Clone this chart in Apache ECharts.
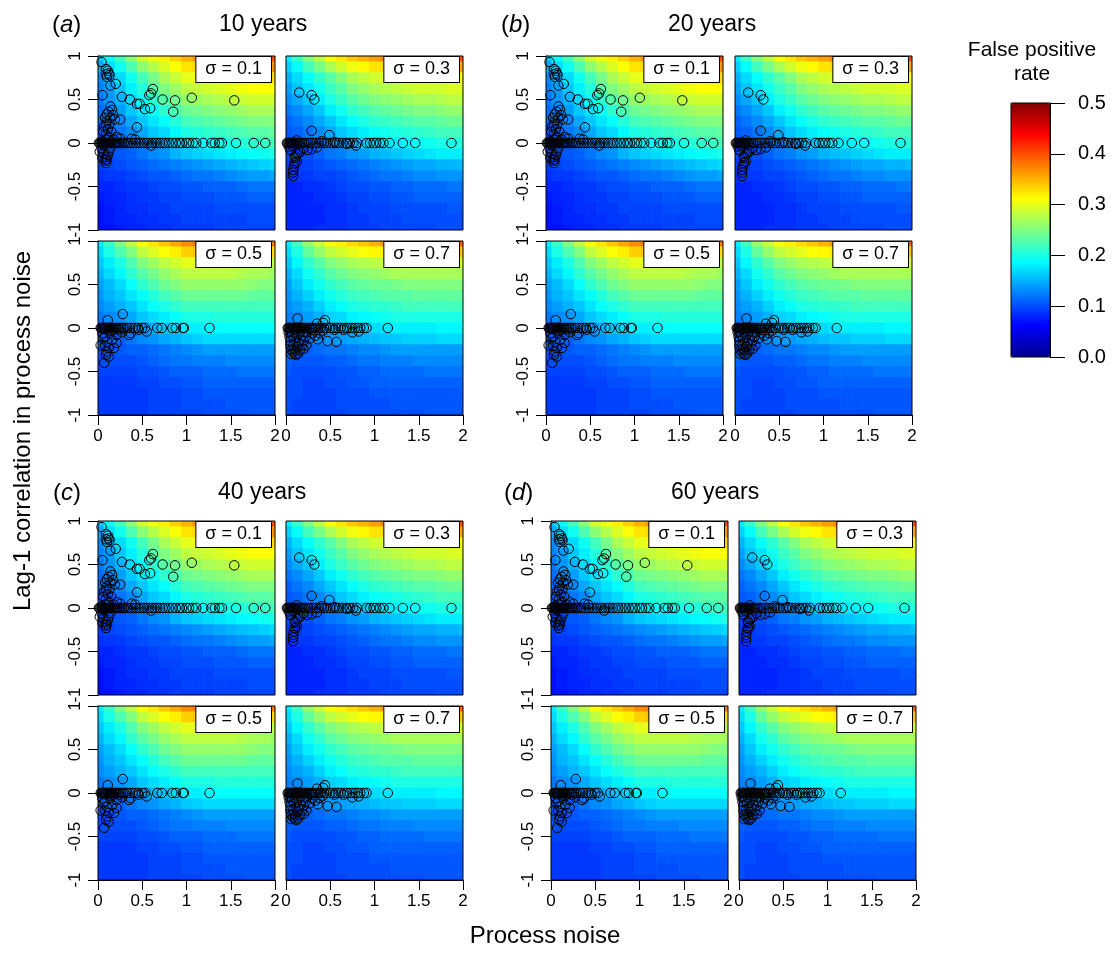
<!DOCTYPE html>
<html><head><meta charset="utf-8">
<script src="https://cdn.jsdelivr.net/npm/echarts@6/dist/echarts.min.js"></script>
<style>html,body{margin:0;padding:0;background:#fff}#c{width:1115px;height:954px}</style>
</head><body><div id="c"></div>
<script>
const FONT = '"Liberation Sans", Arial, Helvetica, sans-serif';

// ---------- text / tick data ----------
const groupLetters = ['a', 'b', 'c', 'd'];
const groupTitles = ['10 years', '20 years', '40 years', '60 years'];
const sigmaLabels = ['σ = 0.1', 'σ = 0.3', 'σ = 0.5', 'σ = 0.7'];
const xTickStep = 0.5;        // process noise ticks 0 … 2
const yTickStep = 0.5;        // lag-1 correlation ticks -1 … 1
const colorbarTickStep = 0.1; // false positive rate 0.0 … 0.5

// ---------- false positive rate surfaces (percent), rows y = 1 … -1, cols x = 0 … 2 ----------
const surfaceX = [0,0.125,0.25,0.375,0.5,0.625,0.75,0.875,1,1.125,1.25,1.375,1.5,1.625,1.75,1.875,2];
const surfaceY = [1,0.875,0.75,0.625,0.5,0.375,0.25,0.125,0,-0.125,-0.25,-0.375,-0.5,-0.625,-0.75,-0.875,-1];

const fprSigma01 = [
[16,19,22,25.5,29,30.5,32,33.5,35,36,37,37.5,38,38.5,39,39.5,40],
[14.5,17,19.5,22.5,25.5,27.5,29.5,31,32.5,33,34,34.5,35,35.5,36,36,36.5],
[13,15,17,19.5,22,24.5,27,28.5,30,30.5,31,31.5,32,32.5,33,33,33],
[12.5,14,16,18,20.5,23,25,26.5,28,28.5,29,29.5,30,30.5,31,31,31],
[12,13.5,15,17,19,21,23,24.5,26,26.5,27,27.5,28,28.5,29,29,29],
[11.5,13,14,16,17.5,19,21,22.5,24,24.5,25,25.5,26,26.5,27,27,27],
[11,12,13,14.5,16,17.5,19,20.5,22,22.5,23,23.5,24,24.5,25,25,25],
[10.5,11,12,13,14.5,16,17,18.5,20,20.5,21,21.5,22,22.5,23,23,23.5],
[10,10.5,11,12,13,14,15,16.5,18,18.5,19,19.5,20,20.5,21,21.5,22],
[9.5,10,10.5,11,12,13,13.5,15,16,16.5,17,17.5,18,18.5,19,19.5,20],
[9,9.5,10,10.5,11,11.5,12,12.5,13,13.5,14,14.5,15,15.5,16,16.5,17],
[8.5,9,9,9.5,10,10.5,10.5,11,11.5,12,12,12.5,13,13.5,14,14,14.5],
[8,8,8.5,9,9,9.5,10,10,10.5,10.5,11,11,11,11.5,12,12,12],
[7.5,8,8,8.5,9,9,9.5,9.5,10,10,10,10.5,10.5,10.5,11,11,11],
[7,7.5,8,8.5,8.5,9,9,9.5,9.5,9.5,9.5,10,10,10,10,10,10],
[7,7.5,8,8,8.5,8.5,9,9,9.5,9.5,9.5,9.5,9.5,9.5,10,10,10],
[7,7,7.5,8,8,8.5,8.5,9,9,9,9,9.5,9.5,9.5,9.5,9.5,9.5]
];
const fprSigma03 = [
[18,21.5,25,28,31,32.5,34,35,36,37,38,38.5,39,39,39,39.5,40],
[16.5,19,22,24.5,27,29,30.5,31.5,32.5,33,34,34.5,35,35,35,35,35.5],
[15,17,19,21,23,25,27,28,29,29.5,30,30.5,31,31,31,31,31],
[14,16,17.5,19.5,21.5,23,25,26,27,27.5,28,28.5,29,29,29,29.5,29.5],
[13,14.5,16,18,20,21.5,23,24,25,25.5,26,26.5,27,27,27.5,28,28],
[12,13,14.5,16,18,19.5,21,22,23,23.5,24,24.5,25,25,25.5,26,26],
[11,12,13,14.5,16,17.5,19,20,21,21.5,22,22.5,23,23,23.5,24,24],
[10.5,11,12,13,14.5,16,17,18,19,19.5,20,20.5,21,21.5,22,22,22],
[10,10.5,11,12,13,14,15,16,17,17.5,18,18.5,19,19.5,20,20,20.5],
[9.5,10,10,11,12,12.5,13.5,14,15,15.5,16,16.5,17,17.5,18,18,18],
[9,9,9.5,10,10.5,11,11.5,12,12.5,13,13.5,14,14.5,14.5,15,15,15.5],
[8.5,9,9,9.5,9.5,10,10.5,11,11.5,12,12,12.5,13,13,13.5,13.5,13.5],
[8,8,8.5,8.5,9,9.5,10,10,10.5,10.5,11,11,11.5,11.5,11.5,12,12],
[8,8,8,8.5,8.5,9,9.5,9.5,10,10,10.5,10.5,11,11,11,11,11],
[8,8,8,8,8.5,8.5,9,9.5,9.5,9.5,10,10,10,10,10,10.5,10.5],
[8,8,8,8,8.5,8.5,9,9,9.5,9.5,9.5,10,10,10,10,10,10],
[8,8,8,8.5,8.5,8.5,9,9,9,9.5,9.5,9.5,9.5,9.5,10,10,10]
];
const fprSigma05 = [
[18,21.5,25,28,31,32.5,34,35.5,37,37.5,38,38.5,39,39,39,38.5,38],
[17,20,22.5,25,28,29.5,31,32,33.5,34,34,34,34.5,34,34,33.5,33],
[16,18,20,22.5,25,26.5,28,29,30,30,30,30,30,29.5,29,28.5,28],
[15,17,18.5,21,23,24.5,26,27,28,28,28,28,28,27.5,27,27,26.5],
[14,15.5,17,19,21,22.5,24,25,26,26,26,26,26,26,25.5,25,25],
[13.5,15,16,17.5,19,20.5,22,23,24,24,24,24,24,24,23.5,23.5,23.5],
[13,14,15,16,17.5,19,20,21,22,22,22,22,22,22,22,22,22],
[12,13,13.5,14.5,16,17,18,19,20,20,20,20.5,20.5,20.5,20.5,20.5,20.5],
[11,11.5,12,13,14,15,16,17,18,18,18.5,19,19,19,19,19,19],
[10.5,11,11,12,13,13.5,14.5,15,16,16.5,17,17,17,17,17,17,17],
[10,10,10.5,11,11,11.5,12,12.5,13,13.5,14,14,14,14,14,14,14],
[10,10,10,10,10.5,11,11.5,12,12,12.5,12.5,12.5,13,13,13,13,13],
[9.5,9.5,9.5,9.5,10,10,10.5,11,11,11,11.5,11.5,11.5,12,12,12,12],
[9,9,9,9,9.5,9.5,10,10,10.5,10.5,11,11,11,11,11,11,11],
[9,9,9,9,9,9.5,9.5,9.5,10,10,10.5,10.5,10.5,10.5,10.5,10.5,10.5],
[9,9,9,9,9,9.5,9.5,9.5,10,10,10,10,10.5,10.5,10.5,10.5,10.5],
[9,9,9,9,9,9.5,9.5,9.5,9.5,9.5,10,10,10,10,10.5,10.5,10.5]
];
const fprSigma07 = [
[18,22,26,28.5,31,32,33,34,35,36,37,37.5,38,38,38,38.5,39],
[17,20,23.5,26,28,29,30,31,31.5,32,33,33,33.5,33.5,33.5,34,34],
[16,18.5,21,23,25,26,27,27.5,28,28.5,29,29,29,29,29,29,29],
[15,17,19.5,21,23,24,25,25.5,26,26.5,27,27,27,27,27,27,27],
[14,16,18,19.5,21,22,23,23.5,24,24,24.5,25,25,25,25,25,25],
[13.5,15,16.5,18,19.5,20.5,21.5,22,22.5,23,23,23,23.5,23.5,23.5,23.5,23.5],
[13,14,15,16.5,18,19,20,20.5,21,21,21.5,22,22,22,22,22,22],
[12.5,13,14,15,16.5,17,18,18.5,19,19.5,20,20,20,20,20,20,20],
[12,12.5,13,14,15,15.5,16,16.5,17,17.5,18,18,18,18,18.5,18.5,18.5],
[11.5,12,12,13,13.5,14,14.5,15,15.5,16,16,16.5,16.5,16.5,17,17,17],
[11,11,11,11.5,12,12,12.5,13,13,13.5,14,14,14,14,14,14,14],
[11,10.5,10.5,10.5,11,11,11.5,12,12,12.5,12.5,12.5,13,13,13,13,13],
[10.5,10,10,10,10,10.5,10.5,11,11,11.5,11.5,11.5,11.5,12,12,12,12],
[10,10,9.5,9.5,10,10,10.5,10.5,11,11,11,11,11,11,11,11,11],
[10,10,9.5,9.5,9.5,10,10,10,10.5,10.5,10.5,10.5,10.5,10.5,10.5,10.5,10.5],
[10,9.5,9.5,9.5,9.5,10,10,10,10,10,10.5,10.5,10.5,10.5,10.5,10.5,10.5],
[10,9.5,9.5,9.5,9.5,9.5,10,10,10,10,10,10,10,10.5,10.5,10.5,10.5]
];

// ---------- estimated (process noise, lag-1 correlation) points ----------
const pointsSigma01 = [
[0.04,0.93],[0.09,0.85],[0.11,0.83],[0.12,0.80],[0.09,0.79],[0.13,0.78],[0.10,0.76],[0.05,0.55],[0.14,0.66],[0.20,0.68],
[0.27,0.53],[0.36,0.50],[0.44,0.45],[0.47,0.45],[0.53,0.39],[0.58,0.55],[0.60,0.57],[0.62,0.62],[0.59,0.40],[0.73,0.50],
[0.87,0.49],[0.85,0.36],[1.06,0.52],[1.54,0.49],
[0.14,0.42],[0.16,0.38],[0.10,0.33],[0.14,0.29],[0.10,0.25],[0.17,0.32],[0.09,0.21],[0.07,0.19],[0.19,0.27],[0.25,0.27],
[0.15,0.13],[0.06,0.13],[0.21,0.07],[0.12,0.07],[0.44,0.18],[0.12,0.36],[0.08,0.29],[0.13,0.22],[0.11,0.16],[0.09,0.10],
[0.25,0.05],[0.38,0.05],[0.42,0.04],[0.18,0.04],[0.08,0.04],[0.05,0.02],
[0.01,0],[0.02,0],[0.03,0],[0.04,0],[0.05,0],[0.06,0],[0.07,0],[0.08,0],[0.09,0],[0.10,0],[0.11,0],[0.12,0],[0.13,0],
[0.14,0],[0.15,0],[0.17,0],[0.19,0],[0.21,0],[0.23,0],[0.25,0],[0.27,0],[0.29,0],[0.31,0],[0.34,0],[0.37,0],[0.40,0],
[0.43,0],[0.46,0],[0.49,0],[0.52,0],[0.55,0],[0.58,0],[0.61,0],[0.64,0],[0.67,0],[0.70,0],[0.73,0],[0.76,0],[0.80,0],
[0.84,0],[0.88,0],[0.92,0],[0.95,0],[1.00,0],[1.03,0],[1.07,0],[1.11,0],[1.19,0],[1.28,0],[1.32,0],[1.37,0],[1.40,0],
[1.56,0],[1.76,0],[1.89,0],
[0.04,-0.06],[0.06,-0.12],[0.09,-0.16],[0.08,-0.20],[0.09,-0.23],[0.10,-0.19],[0.02,-0.10],[0.12,-0.10],[0.14,-0.06],
[0.60,-0.03],[0.07,-0.03],[0.11,-0.14],[0.05,-0.17]
];
const pointsSigma03 = [
[0.15,0.58],[0.29,0.55],[0.32,0.50],[0.29,0.14],[0.49,0.09],
[0.01,0],[0.02,0],[0.03,0],[0.04,0],[0.05,0],[0.06,0],[0.07,0],[0.08,0],[0.09,0],[0.10,0],[0.12,0],[0.14,0],[0.16,0],
[0.18,0],[0.20,0],[0.22,0],[0.25,0],[0.28,0],[0.31,0],[0.34,0],[0.37,0],[0.40,0],[0.43,0],[0.46,0],[0.50,0],[0.53,0],
[0.57,0],[0.60,0],[0.64,0],[0.68,0],[0.72,0],[0.76,0],[0.80,0],[0.91,0],[0.95,0],[0.99,0],[1.02,0],[1.06,0],[1.10,0],
[1.17,0],[1.32,0],[1.46,0],[1.87,0],
[0.79,-0.03],[0.69,-0.01],[0.20,-0.06],[0.24,-0.08],[0.29,-0.07],[0.35,-0.05],[0.16,-0.10],[0.05,-0.08],[0.03,-0.04],
[0.07,-0.03],[0.40,0.02],[0.55,0.01],[0.12,0.03],
[0.12,-0.13],[0.105,-0.17],[0.10,-0.23],[0.09,-0.27],[0.08,-0.31],[0.08,-0.34],[0.08,-0.38],[0.14,-0.12],[0.12,-0.21],[0.10,-0.15]
];
const pointsSigma05 = [
[0.28,0.16],[0.11,0.09],
[0.03,0],[0.04,0],[0.05,0],[0.06,0],[0.07,0],[0.08,0],[0.09,0],[0.10,0],[0.11,0],[0.12,0],[0.13,0],[0.14,0],[0.15,0],
[0.16,0],[0.18,0],[0.20,0],[0.22,0],[0.24,0],[0.26,0],[0.28,0],[0.30,0],[0.33,0],[0.36,0],[0.39,0],[0.42,0],[0.45,0],
[0.50,0],[0.53,0],[0.67,0],[0.72,0],[0.84,0],[0.88,0],[0.96,0],[0.97,0],[1.26,0],
[0.55,-0.04],[0.46,-0.02],[0.35,-0.08],[0.37,-0.06],[0.27,-0.05],[0.21,-0.08],[0.14,-0.06],[0.05,-0.06],
[0.06,-0.12],[0.10,-0.16],[0.08,-0.20],[0.12,-0.23],[0.10,-0.27],[0.09,-0.31],[0.07,-0.40],[0.16,-0.14],[0.21,-0.17],
[0.18,-0.23],[0.03,-0.20],[0.12,-0.33],[0.08,-0.10],[0.13,-0.03],[0.17,-0.02],[0.24,-0.02]
];
const pointsSigma07 = [
[0.13,0.11],[0.44,0.09],[0.42,0.06],[0.35,0.05],
[0.02,0],[0.03,0],[0.04,0],[0.05,0],[0.06,0],[0.07,0],[0.08,0],[0.09,0],[0.10,0],[0.11,0],[0.12,0],[0.13,0],[0.14,0],
[0.15,0],[0.16,0],[0.17,0],[0.18,0],[0.19,0],[0.20,0],[0.21,0],[0.22,0],[0.24,0],[0.26,0],[0.28,0],[0.30,0],[0.32,0],
[0.34,0],[0.36,0],[0.38,0],[0.40,0],[0.43,0],[0.46,0],[0.50,0],[0.53,0],[0.56,0],[0.59,0],[0.62,0],[0.66,0],[0.69,0],
[0.72,0],[0.75,0],[0.78,0],[0.81,0],[0.84,0],[0.88,0],[0.91,0],[1.15,0],
[0.03,-0.05],[0.04,-0.10],[0.05,-0.15],[0.05,-0.20],[0.06,-0.25],[0.08,-0.28],[0.10,-0.30],[0.12,-0.31],[0.14,-0.29],
[0.16,-0.25],[0.18,-0.20],[0.20,-0.15],[0.22,-0.10],[0.07,-0.08],[0.09,-0.12],[0.11,-0.18],[0.13,-0.22],[0.10,-0.05],
[0.15,-0.06],[0.19,-0.08],[0.23,-0.20],[0.08,-0.20],[0.12,-0.10],[0.16,-0.14],[0.06,-0.30],[0.09,-0.24],[0.14,-0.18],
[0.20,-0.24],[0.04,-0.03],[0.11,-0.26],[0.17,-0.04],[0.24,-0.05],
[0.47,-0.15],[0.57,-0.16],[0.30,-0.06],[0.33,-0.09],[0.36,-0.13],[0.38,-0.06],[0.27,-0.12],[0.42,-0.03],[0.75,-0.05],
[0.82,-0.04],[0.65,-0.02],[0.30,-0.02],[0.55,-0.02]
];

// ---------- assembly ----------
const surfaces = [fprSigma01, fprSigma03, fprSigma05, fprSigma07];
const pointSets = [pointsSigma01, pointsSigma03, pointsSigma05, pointsSigma07];

const groupLeft = [[98, 286], [546, 735], [98, 286], [551, 739]];
const groupTop = [[56, 241], [56, 241], [521, 706], [521, 706]];
const PW = 177, PH = 174;
const HALF_CELL = (surfaceX[1] - surfaceX[0]) / 2;

function cellData(surf) {
  const out = [];
  surfaceY.forEach((y, i) => surfaceX.forEach((x, j) => out.push([x, y, surf[i][j]])));
  return out;
}
function renderCell(params, api) {
  const x = api.value(0), y = api.value(1);
  const p0 = api.coord([x - HALF_CELL, y + HALF_CELL]);
  const p1 = api.coord([x + HALF_CELL, y - HALF_CELL]);
  const cs = params.coordSys;
  const r = echarts.graphic.clipRectByRect(
    { x: p0[0], y: p0[1], width: p1[0] - p0[0] + 0.7, height: p1[1] - p0[1] + 0.7 },
    { x: cs.x, y: cs.y, width: cs.width, height: cs.height });
  if (!r) return null;
  return { type: 'rect', shape: r, style: { fill: api.visual('color') } };
}

const grid = [], xAxis = [], yAxis = [], series = [], graphic = [];
const heatSeriesIdx = [];
let gi = 0;
for (let g = 0; g < 4; g++) {
  for (let r = 0; r < 2; r++) {
    for (let c = 0; c < 2; c++) {
      const k = r * 2 + c;
      const left = groupLeft[g][c], top = groupTop[g][r];
      grid.push({ left, top, width: PW, height: PH, show: true, borderColor: '#000', borderWidth: 1,
        backgroundColor: 'rgba(0,0,0,0)', z: 3 });
      xAxis.push({ gridIndex: gi, type: 'value', min: 0, max: 2, interval: xTickStep, show: r === 1, position: 'bottom',
        axisLine: { show: true, onZero: false, lineStyle: { color: '#000', width: 1 } },
        axisTick: { show: true, length: 10, lineStyle: { color: '#000', width: 1 } },
        axisLabel: { show: true, margin: 13, color: '#000', fontSize: 17, fontFamily: FONT },
        splitLine: { show: false } });
      yAxis.push({ gridIndex: gi, type: 'value', min: -1, max: 1, interval: yTickStep, show: c === 0, position: 'left',
        axisLine: { show: true, onZero: false, lineStyle: { color: '#000', width: 1 } },
        axisTick: { show: true, length: 10, lineStyle: { color: '#000', width: 1 } },
        axisLabel: { show: true, rotate: 90, margin: 14, color: '#000', fontSize: 17, fontFamily: FONT },
        splitLine: { show: false } });
      heatSeriesIdx.push(series.length);
      series.push({ type: 'custom', coordinateSystem: 'cartesian2d', xAxisIndex: gi, yAxisIndex: gi,
        data: cellData(surfaces[k]), encode: { x: 0, y: 1 }, renderItem: renderCell,
        silent: true, animation: false, clip: true, z: 1 });
      series.push({ type: 'scatter', xAxisIndex: gi, yAxisIndex: gi, data: pointSets[k],
        symbol: 'circle', symbolSize: 9.5, silent: true, animation: false, clip: true, z: 4,
        itemStyle: { color: 'rgba(0,0,0,0)', borderColor: '#000', borderWidth: 1, opacity: 1 } });
      graphic.push({ type: 'text', z: 100, silent: true,
        style: { text: sigmaLabels[k], x: left + PW - 4, y: top + 1, align: 'right', verticalAlign: 'top',
          fontSize: 18, fontFamily: FONT, fill: '#000', lineHeight: 19,
          backgroundColor: '#fff', borderColor: '#000', borderWidth: 1, padding: [3, 9, 3, 9] } });
      gi++;
    }
  }
}

// colorbar axis grid
grid.push({ left: 1011, top: 103, width: 39, height: 254, show: true, borderColor: '#000', borderWidth: 1,
  backgroundColor: 'rgba(0,0,0,0)', z: 6 });
xAxis.push({ gridIndex: gi, type: 'value', min: 0, max: 1, show: false });
yAxis.push({ gridIndex: gi, type: 'value', position: 'right', min: 0, max: 0.5, interval: colorbarTickStep, z: 6,
  axisLine: { show: true, onZero: false, lineStyle: { color: '#000', width: 1 } },
  axisTick: { show: true, length: 15, lineStyle: { color: '#000', width: 1 } },
  axisLabel: { show: true, margin: 28, color: '#000', fontSize: 20, fontFamily: FONT, formatter: v => v.toFixed(1) },
  splitLine: { show: false } });

// titles
const titleX = [[52, 219], [501, 668], [53, 218], [504, 671]];
const titleY = [25, 25, 493, 493];
for (let g = 0; g < 4; g++) {
  graphic.push({ type: 'text', z: 100, silent: true,
    style: { text: '({it|' + groupLetters[g] + '})', x: titleX[g][0], y: titleY[g], align: 'left', verticalAlign: 'middle',
      fontSize: 24, fontFamily: FONT, fill: '#000',
      rich: { it: { fontStyle: 'italic', fontSize: 24, fontFamily: FONT, fill: '#000' } } } });
  graphic.push({ type: 'text', z: 100, silent: true,
    style: { text: groupTitles[g], x: titleX[g][1], y: titleY[g], align: 'left', verticalAlign: 'middle',
      fontSize: 23, fontFamily: FONT, fill: '#000' } });
}
graphic.push({ type: 'text', z: 100, silent: true, x: 23, y: 431, rotation: Math.PI / 2,
  style: { text: 'Lag-1 correlation in process noise', x: 0, y: 0, align: 'center', verticalAlign: 'middle',
    fontSize: 24, fontFamily: FONT, fill: '#000' } });
graphic.push({ type: 'text', z: 100, silent: true,
  style: { text: 'Process noise', x: 545, y: 936, align: 'center', verticalAlign: 'middle',
    fontSize: 24, fontFamily: FONT, fill: '#000' } });
graphic.push({ type: 'text', z: 100, silent: true,
  style: { text: 'False positive\nrate', x: 1032, y: 38, align: 'center', verticalAlign: 'top',
    fontSize: 21, lineHeight: 24, fontFamily: FONT, fill: '#000' } });

const chart = echarts.init(document.getElementById('c'), null, { renderer: 'canvas' });
chart.setOption({
  animation: false,
  backgroundColor: '#fff',
  grid, xAxis, yAxis, series, graphic,
  visualMap: {
    type: 'continuous', min: 0, max: 50, dimension: 2, seriesIndex: heatSeriesIdx,
    calculable: false, realtime: false, hoverLink: false,
    left: 1011, top: 103, itemWidth: 39, itemHeight: 254, padding: 0, orient: 'vertical',
    text: null, showLabel: false,
    inRange: { color: ['#00008F', '#0000FF', '#0080FF', '#00FFFF', '#80FF80', '#FFFF00', '#FF8000', '#FF0000', '#800000'] }
  }
});
</script></body></html>
